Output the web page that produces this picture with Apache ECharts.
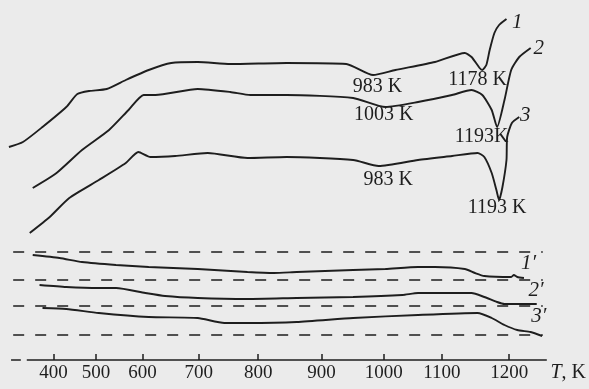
<!DOCTYPE html>
<html>
<head>
    <meta charset="utf-8">
    <title>DTA curves</title>
    <script src="https://cdn.jsdelivr.net/npm/echarts@6/dist/echarts.min.js"></script>
    <style>
        html, body { margin: 0; padding: 0; background: #ebebeb; }
        #chart1 { width: 589px; height: 389px; }
    </style>
</head>
<body>
<div id="chart1"></div>
<script type="text/javascript">
    // temperature scale of the recorder is not linear: tick temperatures and their chart positions
    var tickTemps = [400, 500, 600, 700, 800, 900, 1000, 1100, 1200];
    var tickPos = [0, 43, 90, 147, 207, 271, 334, 393, 461];

    // heating curves (T in K, signal in arbitrary chart units)
    var curve1 = [[295,213],[328,218],[374,233],[430,253],[456,266],[484,269],[523,271],[564,280],[611,290],[651,297],[698,298],[753,296],[845,297],[940,296],[983,285],[1020,290],[1088,298],[1134,307],[1144,303],[1156,292],[1160,290],[1166,295],[1171,310],[1178,327],[1185,335],[1196,341]];
    var curve2 = [[351,172],[407,187],[467,210],[528,230],[570,250],[602,265],[623,265],[698,271],[753,268],[787,265],[845,265],[951,262],[1003,253],[1059,258],[1115,265],[1144,270],[1160,265],[1174,250],[1182,233],[1193,260],[1203,290],[1215,303],[1232,312]];
    var curve3 = [[344,127],[391,143],[437,162],[506,180],[564,197],[591,208],[614,203],[658,204],[715,207],[782,202],[845,203],[951,200],[992,194],[1059,200],[1115,204],[1153,207],[1163,203],[1174,187],[1181,170],[1185,160],[1190,173],[1196,200],[1197,223],[1204,237],[1215,243]];
    // cooling / reference curves 1', 2', 3'
    var curve1p = [[351,105],[414,102],[467,98],[543,95],[611,93],[698,91],[782,88],[825,87],[861,88],[951,90],[1003,91],[1059,93],[1088,93],[1134,91],[1149,87],[1163,84],[1203,83],[1207,85],[1212,83],[1222,82]];
    var curve2p = [[367,75],[430,73],[506,72],[543,72],[605,67],[640,64],[698,62],[782,61],[861,62],[951,63],[1032,65],[1059,67],[1144,67],[1163,63],[1182,58],[1193,56],[1241,56]];
    var curve3p = [[374,52],[430,51],[506,47],[611,43],[698,42],[743,37],[782,37],[861,38],[951,42],[1059,45],[1153,47],[1174,42],[1193,35],[1212,30],[1232,28],[1249,24]];

    // dashed zero lines, the drawn T axis and the short dash left of it
    var baseLevels = [108, 80, 54, 25];
    var baseRange = [305, 1250];
    var axisRange = [337, 1256];
    var axisStub = [300, 323];
    var viewRange = [274, 1309];

    // peak temperatures and curve numbers: [text, T, signal]
    var notes = [
        ['983 K', 990, 273],
        ['1003 K', 1000, 245],
        ['983 K', 1008, 180],
        ['1178 K', 1153, 280],
        ['1193K', 1159, 223],
        ['1193 K', 1182, 152]
    ];
    var curveNames = [
        ['1', 1212, 338], ['2', 1244, 312], ['3', 1224, 245],
        ['1\u2032', 1229, 97], ['2\u2032', 1240, 70], ['3\u2032', 1244, 44]
    ];

    function warp(t) {
        var n = tickTemps.length;
        var i = 0;
        if (t >= tickTemps[n - 1]) i = n - 2;
        else while (i < n - 2 && t > tickTemps[i + 1]) i++;
        var k = (tickPos[i + 1] - tickPos[i]) / (tickTemps[i + 1] - tickTemps[i]);
        return tickPos[i] + (t - tickTemps[i]) * k;
    }
    function toXY(list) {
        return list.map(function (p) { return [warp(p[0]), p[1]]; });
    }
    function hline(range, lv) {
        return [[warp(range[0]), lv], [warp(range[1]), lv]];
    }

    var font = 'Liberation Serif';
    var ink = '#1e1e1e';
    var tickValues = tickTemps.map(warp);

    var series = [];
    [curve1, curve2, curve3, curve1p, curve2p, curve3p].forEach(function (c) {
        series.push({
            type: 'line', data: toXY(c), symbol: 'none', smooth: 0.2,
            lineStyle: { color: ink, width: 1.9 }, silent: true
        });
    });
    baseLevels.forEach(function (lv) {
        series.push({
            type: 'line', data: hline(baseRange, lv), symbol: 'none', silent: true,
            lineStyle: { color: ink, width: 1.6, type: [11, 11] }
        });
    });
    [axisRange, axisStub].forEach(function (r) {
        series.push({
            type: 'line', data: hline(r, 0), symbol: 'none', silent: true, clip: false,
            lineStyle: { color: ink, width: 1.5 }
        });
    });
    series.push({
        type: 'scatter', symbolSize: 0, silent: true, itemStyle: { opacity: 1 },
        data: notes.map(function (n) { return { value: [warp(n[1]), n[2]], name: n[0] }; }),
        label: { show: true, position: 'inside', formatter: '{b}', color: ink, opacity: 1, fontFamily: font, fontSize: 20 }
    });
    series.push({
        type: 'scatter', symbolSize: 0, silent: true, itemStyle: { opacity: 1 },
        data: curveNames.map(function (n) { return { value: [warp(n[1]), n[2]], name: n[0] }; }),
        label: { show: true, position: 'inside', formatter: '{b}', color: ink, opacity: 1, fontFamily: font, fontSize: 21, fontStyle: 'italic' }
    });

    var myChart = echarts.init(document.getElementById('chart1'));
    var option = {
        backgroundColor: '#ebebeb',
        animation: false,
        grid: { left: 0, right: 0, top: 0, bottom: 29 },
        xAxis: {
            type: 'value',
            min: warp(viewRange[0]),
            max: warp(viewRange[1]),
            name: '{i|T}, K',
            nameLocation: 'end',
            nameGap: -32,
            nameTextStyle: {
                color: ink, fontFamily: font, fontSize: 20, align: 'left', verticalAlign: 'top', padding: [3, 0, 0, 0],
                rich: { i: { fontStyle: 'italic', fontFamily: font, fontSize: 20, color: ink } }
            },
            axisLine: { show: false },
            axisTick: { show: true, inside: true, length: 6, lineStyle: { color: ink, width: 1.5 }, customValues: tickValues },
            axisLabel: {
                customValues: tickValues,
                margin: 4,
                color: ink, fontFamily: font, fontSize: 19,
                formatter: function (v) {
                    for (var i = 0; i < tickValues.length; i++) {
                        if (Math.abs(tickValues[i] - v) < 0.5) return tickTemps[i];
                    }
                    return '';
                }
            },
            splitLine: { show: false }
        },
        yAxis: { type: 'value', min: 0, max: 360, show: false },
        series: series
    };
    myChart.setOption(option);
</script>
</body>
</html>
